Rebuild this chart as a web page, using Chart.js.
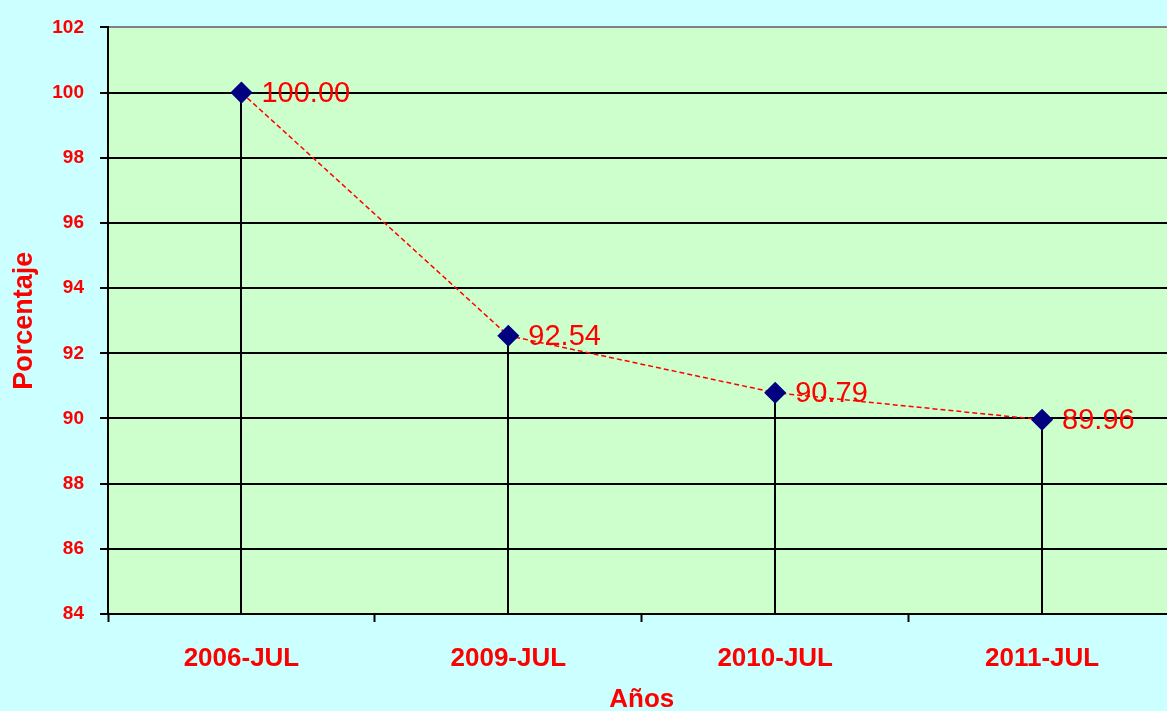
<!DOCTYPE html>
<html>
<head>
<meta charset="utf-8">
<script src="https://cdn.jsdelivr.net/npm/chart.js@4"></script>
<style>
  html, body { margin: 0; padding: 0; background: #ccffff; overflow: hidden; }
  canvas { display: block; }
</style>
</head>
<body>
<canvas id="myChart" width="1187" height="720"></canvas>
<script>
let categories = ['2006-JUL', '2009-JUL', '2010-JUL', '2011-JUL']
let porcentaje = [100.00, 92.54, 90.79, 89.96]
let yMin = 84
let yMax = 102
let yStep = 2

let fontFamily = '"Liberation Sans", Arial, sans-serif'

// plot area fill, drop lines under markers, value labels on top
let plotBg = {
    id: 'plotBg',
    beforeDraw(chart) {
        let a = chart.chartArea
        let c = chart.ctx
        c.save()
        c.fillStyle = '#ccffcc'
        c.fillRect(a.left, a.top, a.right - a.left, a.bottom - a.top)
        c.restore()
    },
    beforeDatasetsDraw(chart) {
        let c = chart.ctx
        let bottom = chart.chartArea.bottom
        c.save()
        c.strokeStyle = '#000000'
        c.lineWidth = 2
        chart.getDatasetMeta(0).data.forEach(p => {
            c.beginPath()
            c.moveTo(Math.round(p.x), p.y)
            c.lineTo(Math.round(p.x), bottom)
            c.stroke()
        })
        c.restore()
    },
    afterDatasetsDraw(chart) {
        let c = chart.ctx
        let vals = chart.data.datasets[0].data
        c.save()
        c.fillStyle = '#ff0000'
        c.font = '29px ' + fontFamily
        c.textAlign = 'left'
        c.textBaseline = 'middle'
        chart.getDatasetMeta(0).data.forEach((p, i) => {
            c.fillText(vals[i].toFixed(2), p.x + 20, p.y + 1)
        })
        c.restore()
    }
}

let graphData = {
    type: 'line',
    data: {
        labels: categories,
        datasets: [{
            label: 'Porcentaje',
            data: porcentaje,
            borderColor: '#ff0000',
            borderWidth: 1.5,
            borderDash: [5, 3],
            tension: 0,
            fill: false,
            pointStyle: 'rectRot',
            pointRadius: 10,
            pointHoverRadius: 10,
            pointBackgroundColor: '#000080',
            pointBorderColor: '#000080'
        }]
    },
    options: {
        responsive: false,
        animation: false,
        layout: { padding: { top: 20, right: 4, left: 0, bottom: 0 } },
        plugins: {
            legend: { display: false },
            tooltip: { enabled: false }
        },
        scales: {
            x: {
                offset: true,
                afterFit(scale) { scale.height = 106 },
                grid: {
                    offset: true,
                    drawOnChartArea: false,
                    tickLength: 8,
                    tickColor: '#000000',
                    tickWidth: 2
                },
                border: { color: '#000000', width: 2 },
                ticks: {
                    color: '#ff0000',
                    padding: 21,
                    maxRotation: 0,
                    font: { family: fontFamily, size: 26, weight: 'bold' }
                },
                title: {
                    display: true,
                    text: 'Años',
                    color: '#ff0000',
                    padding: { top: 0, bottom: 5 },
                    font: { family: fontFamily, size: 26, weight: 'bold' }
                }
            },
            y: {
                min: yMin,
                max: yMax,
                afterFit(scale) { scale.width = 108 },
                grid: {
                    color: ctx => ctx.tick && ctx.tick.value === yMax ? '#808080' : '#000000',
                    lineWidth: 2,
                    tickLength: 8,
                    tickColor: '#000000',
                    tickWidth: 2
                },
                border: { color: '#000000', width: 2 },
                ticks: {
                    stepSize: yStep,
                    color: '#ff0000',
                    padding: 16,
                    font: { family: fontFamily, size: 19, weight: 'bold' }
                },
                title: {
                    display: true,
                    text: 'Porcentaje',
                    color: '#ff0000',
                    padding: { top: 8, bottom: 0 },
                    font: { family: fontFamily, size: 27, weight: 'bold' }
                }
            }
        }
    },
    plugins: [plotBg]
}

let ctx = document.querySelector('#myChart')
let myChart = new Chart(ctx, graphData)
</script>
</body>
</html>
